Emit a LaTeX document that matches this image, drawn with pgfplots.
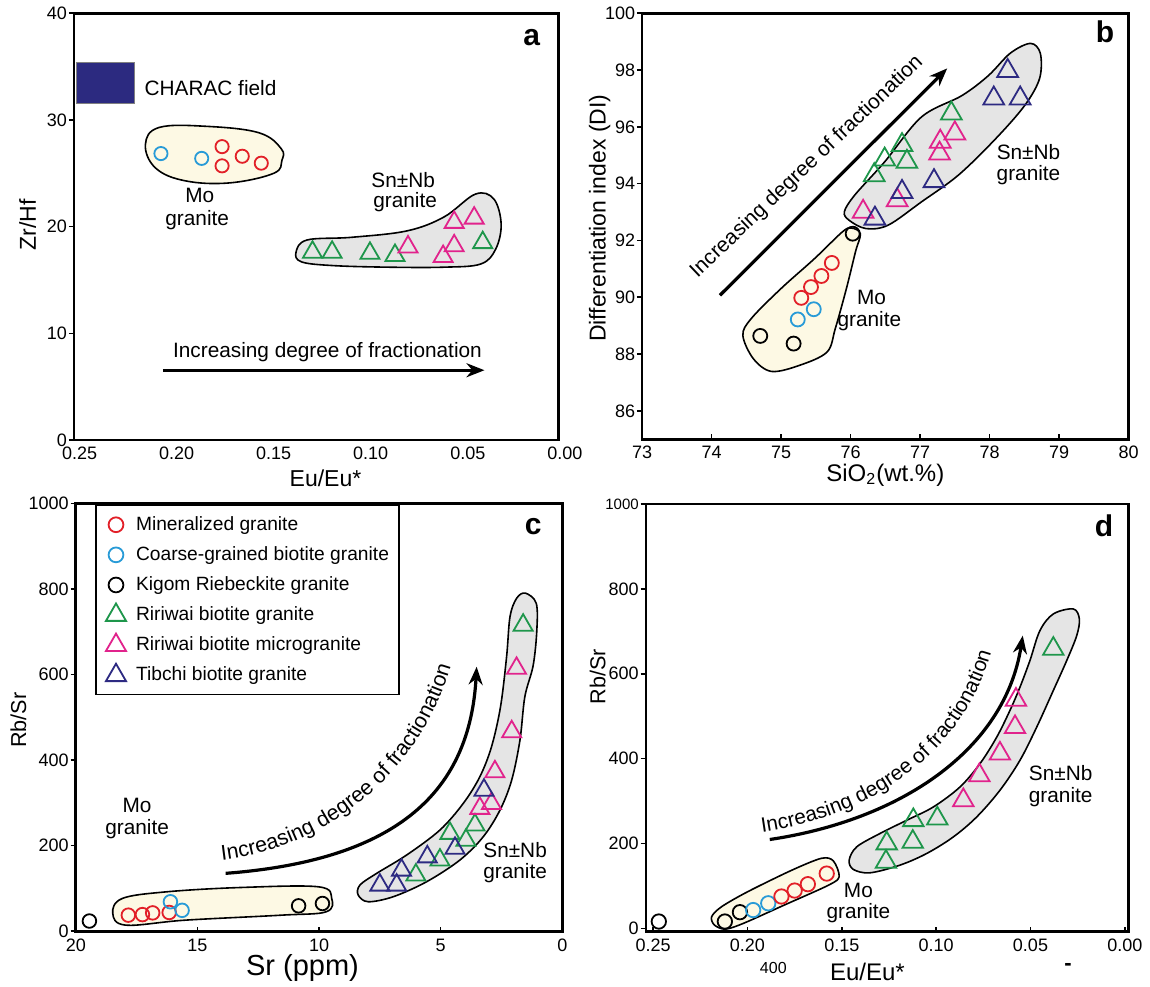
\documentclass[border=0pt]{standalone}
\usepackage{fontspec}
\setmainfont{Liberation Sans}
\usepackage{pgfplots}
\pgfplotsset{compat=1.18}
\usetikzlibrary{arrows.meta,decorations.text}
\definecolor{cred}{RGB}{226,32,40}
\definecolor{cblue}{RGB}{40,155,215}
\definecolor{cgreen}{RGB}{30,150,75}
\definecolor{cmag}{RGB}{225,35,140}
\definecolor{cnavy}{RGB}{45,42,130}
\definecolor{fyel}{RGB}{253,249,228}
\definecolor{fgray}{RGB}{229,229,229}
\definecolor{charac}{RGB}{44,42,128}
\newcommand\fs[1]{\fontsize{#1}{#1}\selectfont}
\pgfplotsset{
 panel/.style={
  scale only axis, clip=false, anchor=south west,
  axis line style={line width=1.3pt},
  tick pos=left, tick align=inside,
  major tick length=2.6pt,
  tick style={black, line width=0.8pt},
  ytick style={xshift=-2.6pt},
  ticklabel style={font=\fs{9}},
  /pgf/number format/assume math mode=true,
  /pgf/number format/1000 sep={},
  label style={font=\fs{11.5}},
 },
 circ/.style={only marks, mark=o, mark size=#1, line width=0.9pt, mark options={solid}},
 tri/.style={only marks, mark=triangle, mark size=#1, line width=0.9pt, mark options={solid}},
}
\tikzset{
 region/.style={draw=black, line width=0.8pt},
 lab/.style={font=\fs{10.4}, inner sep=0pt},
 letter/.style={font=\fs{15}\bfseries, inner sep=0pt},
}
\begin{document}
\begin{tikzpicture}
\useasboundingbox (0,0) rectangle (575pt,493pt);
% ---------------- panel a
\begin{axis}[panel, at={(37pt,273pt)}, width=242.3pt, height=213.35pt,
  x dir=reverse, xmin=0.0032, xmax=0.2529, ymin=0, ymax=40,
  xtick={0.05,0.1,0.15,0.2,0.25}, ytick={0,10,20,30,40},
  xticklabel style={/pgf/number format/.cd, fixed, fixed zerofill, precision=2},
  xtick style={draw=none},
  xlabel={Eu/Eu*}, ylabel={Zr/Hf},
  xlabel style={at={(axis description cs:0.519,0)}, anchor=center, yshift=-19pt},
  ylabel style={at={(axis description cs:-0.0955,0.504)}, anchor=center},
]
\draw[region, fill=fyel] plot[smooth cycle, tension=0.65] coordinates {(0.2161,27.7) (0.2090,29.3) (0.1843,29.4) (0.1576,28.8) (0.1461,27.3) (0.1458,26.2) (0.1500,25.0) (0.1728,24.1) (0.1957,24.3) (0.2109,25.5)};
\draw[region, fill=fgray] plot[smooth cycle, tension=0.6] coordinates {(0.1385,17.6) (0.1328,18.75) (0.1099,19.0) (0.0814,19.6) (0.0623,20.9) (0.0461,23.05) (0.0366,22.6) (0.0328,20.25) (0.0356,17.9) (0.0433,16.5) (0.0623,16.2) (0.0909,16.2) (0.1195,16.35) (0.1357,16.7)};
\fill[charac, draw=gray, line width=0.4pt] (0.2515,31.6) rectangle (0.2220,35.4);
\node[lab, anchor=west] at (0.2167,32.96) {CHARAC field};
\node[lab] at (0.1881,22.9) {Mo};
\node[lab] at (0.1894,20.6) {granite};
\node[lab] at (0.0833,24.4) {Sn±Nb};
\node[lab] at (0.0823,22.3) {granite};
\draw[line width=1.6pt, -{Stealth[length=9pt,width=7pt]}] (0.2071,6.54) -- (0.0414,6.54);
\node[lab] at (0.1223,8.26) {Increasing degree of fractionation};
\node[letter] at (0.0171,37.7) {a};
\node[anchor=north, font=\fs{9}] at (0,0) {0.00};
\addplot[circ=3.3pt, cred] coordinates {(0.1766,27.5) (0.1766,25.7) (0.1662,26.6) (0.1564,25.95)};
\addplot[circ=3.3pt, cblue] coordinates {(0.2081,26.85) (0.1871,26.4)};
\addplot[tri=5.5pt, cgreen] coordinates {(0.1300,17.6) (0.1199,17.6) (0.1004,17.5) (0.0875,17.3) (0.0423,18.5)};
\addplot[tri=5.5pt, cmag] coordinates {(0.0808,18.1) (0.0627,17.2) (0.0570,18.2) (0.0570,20.4) (0.0467,20.8)};
\end{axis}
% ---------------- panel b
\begin{axis}[panel, at={(321.05pt,273.35pt)}, width=243.25pt, height=213pt,
  xmin=73, xmax=80, ymin=85, ymax=100,
  xtick={73,74,75,76,77,78,79,80}, ytick={86,88,90,92,94,96,98,100},
  xlabel={SiO\textsubscript{2}(wt.\%)}, ylabel={Differentiation index (DI)},
  xlabel style={at={(axis description cs:0.5,0)}, anchor=center, yshift=-17.8pt, font=\fs{12}},
  ylabel style={at={(axis description cs:-0.0874,0.519)}, anchor=center},
]
\draw[region, fill=fyel] plot[smooth cycle, tension=0.55] coordinates {(76.01,92.44) (76.14,92.24) (76.07,91.60) (75.94,90.31) (75.78,88.90) (75.66,88.07) (75.26,87.60) (74.86,87.39) (74.60,87.84) (74.45,88.66) (74.57,89.25) (75.00,90.31) (75.48,91.36) (75.88,92.30)};
\draw[region, fill=fgray] plot[smooth cycle, tension=0.55] coordinates {(75.91,93.01) (76.06,93.60) (76.49,94.77) (77.02,96.35) (77.6,97.1) (77.98,97.8) (78.3,98.6) (78.59,98.94) (78.73,98.59) (78.72,97.71) (78.51,96.77) (78.09,95.59) (77.55,94.30) (77.02,93.36) (76.54,92.54) (76.22,92.42) (75.98,92.71)};
\draw[line width=1.6pt, -{Stealth[length=9pt,width=7pt]}] (74.12,90.07) -- (77.39,98.06);
\node[lab, font=\fs{10.5}, rotate=43.5] at (75.37,94.59) {Increasing degree of fractionation};
\node[lab] at (76.30,90.01) {Mo};
\node[lab] at (76.27,89.15) {granite};
\node[lab] at (78.56,95.12) {Sn±Nb};
\node[lab] at (78.56,94.30) {granite};
\node[letter] at (79.66,99.35) {b};
\addplot[circ=3.5pt, black] coordinates {(74.70,88.64) (75.18,88.37) (76.03,92.24)};
\addplot[circ=3.5pt, cblue] coordinates {(75.24,89.22) (75.47,89.58)};
\addplot[circ=3.5pt, cred] coordinates {(75.29,89.98) (75.43,90.36) (75.58,90.75) (75.73,91.21)};
\addplot[tri=6pt, cgreen] coordinates {(76.34,94.30) (76.49,94.85) (76.74,95.36) (76.81,94.77) (77.45,96.47)};
\addplot[tri=6pt, cmag] coordinates {(76.18,93.01) (76.67,93.42) (77.29,95.48) (77.28,95.06) (77.50,95.77)};
\addplot[tri=6pt, cnavy] coordinates {(76.35,92.77) (76.74,93.71) (77.20,94.09) (78.06,97.0) (78.26,97.97) (78.44,97.0)};
\end{axis}
% ---------------- panel c
\begin{axis}[panel, at={(37.9pt,27.15pt)}, width=243.25pt, height=214.2pt,
  x dir=reverse, xmin=0, xmax=20, ymin=-2, ymax=1000,
  xtick={0,5,10,15,20}, ytick={0,200,400,600,800,1000},
  xlabel={Sr (ppm)}, ylabel={Rb/Sr},
  xlabel style={at={(axis description cs:0.466,0)}, anchor=center, yshift=-18.2pt, font=\fs{14.5}},
  ylabel style={at={(axis description cs:-0.1178,0.494)}, anchor=center, font=\fs{10.8}},
  legend style={at={(0.04,0.997)}, anchor=north west, draw=black, line width=0.7pt,
    font=\fs{9.6}, row sep=2.6pt, inner xsep=5pt, inner ysep=3.5pt,
    nodes={inner xsep=0pt},
    /tikz/every odd column/.append style={column sep=5pt}},
  legend cell align=left,
  legend image code/.code={\draw[#1] plot coordinates {(0pt,0pt)};},
]
\draw[region, fill=fyel] plot[smooth cycle, tension=0.6] coordinates {(18.48,40.6) (18.09,75.7) (16.27,91.3) (13.22,101.4) (10.02,103.0) (9.48,75.7) (9.71,44.5) (11.54,36.7) (15.50,25.0) (17.94,13.3)};
\draw[region, fill=fgray] plot[smooth cycle, tension=0.55] coordinates {(8.32,107.1) (7.63,134.5) (6.40,177.3) (5.03,235.8) (4.07,298.2) (3.39,360.4) (2.91,430.6) (2.54,524) (2.29,641) (2.15,734.7) (1.88,777.7) (1.52,790) (1.07,766) (1.05,700) (1.20,620) (1.54,547.6) (1.74,446.3) (2.08,352.7) (2.56,282.6) (3.25,220.1) (4.21,165.6) (5.58,114.8) (6.95,79.8) (7.98,68.1) (8.39,83.7)};
\draw[line width=1.6pt, -{Stealth[length=9pt,width=7pt]}] (13.84,134.5) .. controls (6.68,165.6) and (3.80,329.3) .. (3.52,617.8);
\path[decorate, decoration={text along path, text={|\fs{10.7}|Increasing degree of fractionation}}] (13.99,165.6) .. controls (8.73,201) and (4.42,445.3) .. (4.13,772.9);
\node[lab] at (17.48,294) {Mo};
\node[lab] at (17.48,239) {granite};
\node[lab] at (1.94,189) {Sn±Nb};
\node[lab] at (1.94,134) {granite};
\node[letter] at (1.2,945) {c};
\addlegendimage{only marks, mark=o, mark size=3.7pt, line width=0.9pt, cred}
\addlegendentry{Mineralized granite}
\addlegendimage{only marks, mark=o, mark size=3.7pt, line width=0.9pt, cblue}
\addlegendentry{Coarse-grained biotite granite}
\addlegendimage{only marks, mark=o, mark size=3.7pt, line width=0.9pt, black}
\addlegendentry{Kigom Riebeckite granite}
\addlegendimage{only marks, mark=triangle, mark size=5.8pt, line width=0.9pt, cgreen}
\addlegendentry{Ririwai biotite granite}
\addlegendimage{only marks, mark=triangle, mark size=5.8pt, line width=0.9pt, cmag}
\addlegendentry{Ririwai biotite microgranite}
\addlegendimage{only marks, mark=triangle, mark size=5.8pt, line width=0.9pt, cnavy}
\addlegendentry{Tibchi biotite granite}
\addplot[circ=3.4pt, cred, forget plot] coordinates {(17.84,36.7) (17.26,38) (16.84,42) (16.16,43)};
\addplot[circ=3.4pt, cblue, forget plot] coordinates {(16.11,68) (15.63,48)};
\addplot[circ=3.4pt, black, forget plot] coordinates {(19.44,23) (10.84,58.5) (9.86,64)};
\addplot[tri=5.5pt, cgreen, forget plot] coordinates {(1.61,715) (3.59,247.5) (3.96,212) (4.62,228) (5.03,165.6) (6.02,130.5)};
\addplot[tri=5.5pt, cmag, forget plot] coordinates {(1.88,614) (2.08,465.7) (2.77,372) (2.91,298) (3.39,286.5)};
\addplot[tri=5.5pt, cnavy, forget plot] coordinates {(3.22,329) (4.41,193) (5.55,173) (6.61,142) (7.50,107) (6.81,107)};
\end{axis}
% ---------------- panel d
\begin{axis}[panel, at={(322.9pt,27.15pt)}, width=241.4pt, height=213.85pt,
  x dir=reverse, xmin=-0.002, xmax=0.2539, ymin=-8, ymax=1000,
  xtick={0,0.05,0.1,0.15,0.2,0.25}, ytick={0,200,400,600,800,1000},
  yticklabels={0,200,400,600,800,{\fs{7.5}1000}},
  xticklabel style={/pgf/number format/.cd, fixed, fixed zerofill, precision=2},
  xlabel={Eu/Eu*}, ylabel={Rb/Sr},
  xlabel style={at={(axis description cs:0.459,0)}, anchor=center, yshift=-20pt, font=\fs{12}},
  ylabel style={at={(axis description cs:-0.0996,0.596)}, anchor=center, font=\fs{10.8}},
]
\draw[region, fill=fyel] plot[smooth cycle, tension=0.5] coordinates {(0.2190,27.5) (0.2137,51) (0.2000,86) (0.1765,137) (0.1608,165) (0.1545,159) (0.1514,122) (0.1569,102) (0.1804,55) (0.2020,12) (0.2118,-2) (0.2176,8)};
\draw[region, fill=fgray] plot[smooth cycle, tension=0.55] coordinates {(0.1461,160.6) (0.1421,192) (0.1298,223.4) (0.1156,254.7) (0.1015,286) (0.0874,333) (0.0768,388) (0.0679,450.6) (0.0609,513.4) (0.0556,568.2) (0.0503,631) (0.0450,701.6) (0.0379,740.9) (0.0273,752.6) (0.0241,729) (0.0255,689.8) (0.0308,631) (0.0379,560.5) (0.0467,474.2) (0.0556,395.8) (0.0662,325.3) (0.0785,262.5) (0.0909,215.4) (0.1050,176.4) (0.1192,148.9) (0.1351,130.8) (0.1439,138.8)};
\draw[line width=1.6pt, -{Stealth[length=9pt,width=7pt]}] (0.1882,209.3) .. controls (0.1192,254.7) and (0.0636,419.4) .. (0.0541,689.8);
\path[decorate, decoration={text along path, text={|\fs{10.4}|Increasing degree of fractionation}}] (0.1923,226.5) .. controls (0.1298,266.5) and (0.0715,442.9) .. (0.0662,772);
\node[lab] at (0.1412,90) {Mo};
\node[lab] at (0.1412,35) {granite};
\node[lab] at (0.034,365) {Sn±Nb};
\node[lab] at (0.034,310) {granite};
\node[letter] at (0.011,949) {d};
\node[font=\fs{8}] at (0.1863,-93.4) {400};
\node[font=\fs{11}\bfseries] at (0.0301,-90) {-};
\addplot[circ=3.6pt, black] coordinates {(0.247,16) (0.212,16) (0.204,38)};
\addplot[circ=3.6pt, cblue] coordinates {(0.197,43) (0.189,59)};
\addplot[circ=3.6pt, cred] coordinates {(0.182,75) (0.175,89) (0.168,104) (0.158,129)};
\addplot[tri=5.9pt, cgreen] coordinates {(0.0379,658.6) (0.1266,156.6) (0.1262,200) (0.1124,203.7) (0.1121,254.7) (0.0994,258.7)};
\addplot[tri=5.9pt, cmag] coordinates {(0.0856,301.8) (0.0771,360.6) (0.0662,411.6) (0.0582,474) (0.0577,538.6)};
\end{axis}
\end{tikzpicture}
\end{document}
